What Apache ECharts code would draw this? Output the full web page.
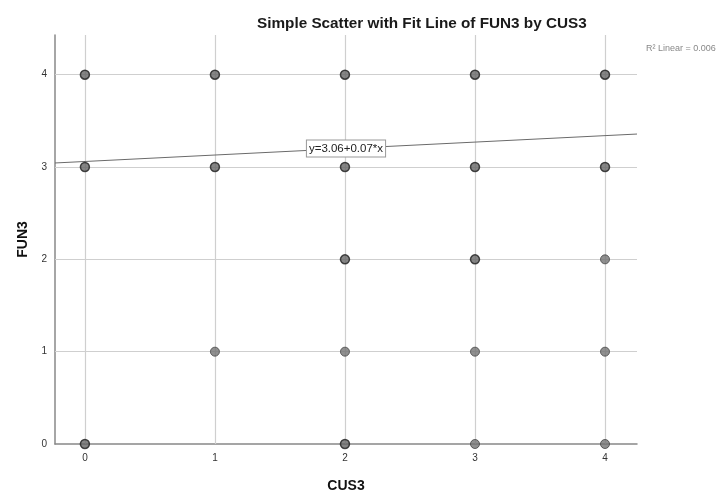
<!DOCTYPE html>
<html><head><meta charset="utf-8">
<script src="https://cdn.jsdelivr.net/npm/echarts@6/dist/echarts.min.js"></script>
<style>html,body{margin:0;padding:0;background:#fff}#c{width:726px;height:493px}</style>
</head><body><div id="c"></div>
<script>
const titleText = 'Simple Scatter with Fit Line of FUN3 by CUS3';
const xName = 'CUS3';
const yName = 'FUN3';
const xTicks = [0, 1, 2, 3, 4];
const yTicks = [0, 1, 2, 3, 4];
const cus3 = [0, 0, 0, 1, 1, 1, 2, 2, 2, 2, 2, 3, 3, 3, 3, 3, 4, 4, 4, 4, 4];
const fun3 = [4, 3, 0, 4, 3, 1, 4, 3, 2, 1, 0, 4, 3, 2, 1, 0, 4, 3, 2, 1, 0];
const counts = [3, 3, 3, 2, 3, 1, 3, 3, 3, 1, 3, 3, 3, 3, 1, 1, 3, 3, 1, 1, 1];
const fitIntercept = 3.06;
const fitSlope = 0.07;
const r2Text = 'R\u00b2 Linear = 0.006';
const fitLabel = 'y=3.06+0.07*x';

const xMin = -0.23, xMax = 4.246, yMin = 0, yMax = 4.43;
const fit = x => fitIntercept + fitSlope * x;
const xMid = (xMin + xMax) / 2;

const pts = cus3.map((x, i) => ({
  value: [x, fun3[i]],
  itemStyle: counts[i] > 1
    ? { color: '#666666', borderColor: '#1e1e1e', borderWidth: 1.5 }
    : { color: '#737373', borderColor: '#444444', borderWidth: 1 }
}));

const FF = 'Liberation Sans, Arial, sans-serif';
const chart = echarts.init(document.getElementById('c'));
chart.setOption({
  animation: false,
  textStyle: { fontFamily: FF },
  title: [
    { text: titleText, left: 252, top: 11,
      textStyle: { fontSize: 15.3, fontWeight: 'bold', color: '#1a1a1a', fontFamily: FF } },
    { text: r2Text, left: 641, top: 39,
      textStyle: { fontSize: 9, fontWeight: 'normal', color: '#888', fontFamily: FF } }
  ],
  grid: { left: 55, right: 89, top: 35, bottom: 49, outerBoundsMode: 'none', containLabel: false },
  xAxis: {
    type: 'value', min: xMin, max: xMax,
    name: xName, nameLocation: 'middle', nameGap: 35,
    nameTextStyle: { fontSize: 14, fontWeight: 'bold', color: '#111' },
    axisLine: { show: true, onZero: false, lineStyle: { color: '#888', width: 1.5 } },
    axisTick: { show: false },
    splitLine: { show: false },
    axisLabel: { customValues: xTicks, fontSize: 10, color: '#333', margin: 9 }
  },
  yAxis: {
    type: 'value', min: yMin, max: yMax, interval: 1,
    name: yName, nameLocation: 'middle', nameGap: 25, nameRotate: 90,
    nameTextStyle: { fontSize: 14, fontWeight: 'bold', color: '#111' },
    axisLine: { show: true, onZero: false, lineStyle: { color: '#888', width: 1.5 } },
    axisTick: { show: false },
    splitLine: { show: false },
    axisLabel: { customValues: yTicks, fontSize: 10, color: '#333', margin: 8 }
  },
  series: [
    {
      type: 'line', silent: true, symbol: 'none', z: 1, zlevel: 0,
      data: [],
      markLine: {
        silent: true, symbol: 'none', label: { show: false }, z: 1,
        lineStyle: { color: '#cfcfcf', width: 1.2, type: 'solid' },
        data: xTicks.map(v => ({ xAxis: v })).concat(yTicks.slice(1).map(v => ({ yAxis: v })))
      }
    },
    {
      type: 'line', symbol: 'none', z: 2, silent: true,
      lineStyle: { color: '#6a6a6a', width: 1 },
      data: [[xMin, fit(xMin)], [xMax, fit(xMax)]],
      markPoint: {
        symbol: 'rect', symbolSize: 1, itemStyle: { color: 'transparent' }, z: 20,
        data: [{ coord: [xMid, fit(xMid)],
          label: { show: true, position: 'inside', formatter: fitLabel,
            fontSize: 11.5, color: '#222', backgroundColor: '#fff',
            borderColor: '#999', borderWidth: 1, padding: [2, 2, 2, 2] } }]
      }
    },
    {
      type: 'scatter', z: 10, symbolSize: 9,
      data: pts
    }
  ]
});
</script></body></html>
